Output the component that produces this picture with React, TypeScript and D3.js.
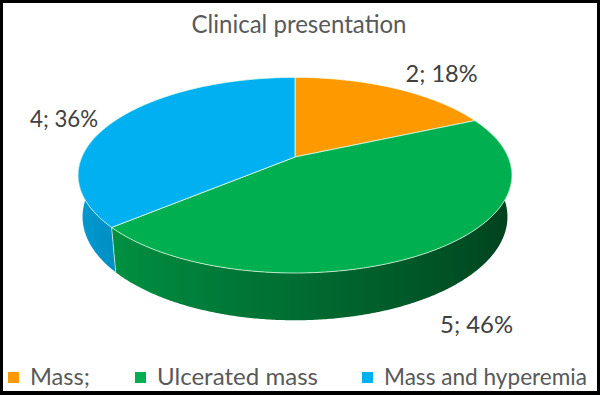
import React from "react";
import * as d3 from "d3";

const title = "Clinical presentation";
const categories = ["Mass;", "Ulcerated mass", "Mass and hyperemia"];
const values = [2, 5, 4];
const percentLabels = ["18%", "46%", "36%"];
const colors = ["#FF9900", "#00B050", "#00B0F0"];

// layout
const W = 600, H = 395;
const cx = 295, cy = 157;
const F = 1027;
const tilt = (26.3 * Math.PI) / 180;
const sinA = Math.sin(tilt), cosA = Math.cos(tilt);
const D = 5.376 * cosA;
const thick = 0.2186;
const labelNudge = [
  [47, -6],
  [45, 82],
  [-51, 6],
];
const labelLen = [72, 73, 68];
const legendX = [8, 135, 362];
const legendTextLen = [60, 161, 203];

function project(x: number, y: number, z: number): [number, number, number] {
  const yc = y * cosA + z * sinA;
  const d = D + z * cosA - y * sinA;
  return [cx + (F * x) / d, cy - (F * yc) / d, d];
}
const rim = (t: number, y = 0) => project(Math.sin(t), y, Math.cos(t));

function shade(color: string, t: number) {
  const b = 0.62 + 0.26 * -Math.sin(t);
  const c = d3.rgb(color);
  return d3.rgb(c.r * b, c.g * b, c.b * b).formatHex();
}

export default function App() {
  const pie = d3.pie<number>().sort(null).startAngle(0).endAngle(2 * Math.PI);
  const arcs = pie(values);
  const step = Math.PI / 360;
  // silhouette angles (widest point of the rim in perspective)
  const tSil = Math.acos(-cosA / D);
  const tR = Math.PI - tSil + Math.PI / 2 - (Math.PI / 2 - (Math.PI - tSil)); // right silhouette
  const tRight = Math.PI - (Math.PI - tSil); // equals tSil measured from top, ~100.7deg
  const tLeft = 2 * Math.PI - tSil;
  void tR;

  const sides: { d: string; id: string; stops: { o: number; c: string }[]; x0: number; x1: number }[] = [];
  arcs.forEach((a, i) => {
    const s0 = Math.max(a.startAngle, Math.PI / 2 - 0.25);
    const s1 = Math.min(a.endAngle, (3 * Math.PI) / 2 + 0.25);
    if (s1 <= s0) return;
    const n = Math.max(2, Math.ceil((s1 - s0) / step));
    const top: [number, number][] = [];
    const bot: [number, number][] = [];
    for (let k = 0; k <= n; k++) {
      const t = s0 + ((s1 - s0) * k) / n;
      const p = rim(t), q = rim(t, -thick);
      top.push([p[0], p[1]]);
      bot.push([q[0], q[1]]);
    }
    const d = d3.line()(top.concat(bot.reverse()))! + "Z";
    const g0 = Math.max(a.startAngle, tRight);
    const g1 = Math.min(a.endAngle, tLeft);
    const samples: { x: number; c: string }[] = [];
    const m = 24;
    for (let k = 0; k <= m; k++) {
      const t = g0 + ((g1 - g0) * k) / m;
      samples.push({ x: rim(t, -thick / 2)[0], c: shade(colors[i], t) });
    }
    samples.sort((p, q) => p.x - q.x);
    const x0 = samples[0].x, x1 = samples[samples.length - 1].x;
    sides.push({
      d,
      id: `side${i}`,
      x0,
      x1,
      stops: samples.map((s) => ({ o: (s.x - x0) / Math.max(1e-6, x1 - x0), c: s.c })),
    });
  });

  const tops = arcs.map((a, i) => {
    const n = Math.max(2, Math.ceil((a.endAngle - a.startAngle) / step));
    const pts: [number, number][] = [[cx, cy]];
    for (let k = 0; k <= n; k++) {
      const t = a.startAngle + ((a.endAngle - a.startAngle) * k) / n;
      const q = rim(t);
      pts.push([q[0], q[1]]);
    }
    return { d: d3.line()(pts)! + "Z", fill: colors[i] };
  });

  const edges = arcs
    .map((a) => a.startAngle)
    .filter((t) => Math.cos(t) < 0)
    .map((t) => {
      const p0 = rim(t), p1 = rim(t, -thick);
      return { x1: p0[0], y1: p0[1], x2: p1[0], y2: p1[1] };
    });

  const labels = arcs.map((a, i) => {
    const tm = (a.startAngle + a.endAngle) / 2;
    const p = rim(tm);
    return {
      x: p[0] + labelNudge[i][0],
      y: p[1] + labelNudge[i][1],
      text: `${values[i]}; ${percentLabels[i]}`,
    };
  });

  const font = "Lato, 'Open Sans', sans-serif";

  return (
    <svg
      width={W}
      height={H}
      style={{ position: "absolute", left: 0, top: 0 }}
      xmlns="http://www.w3.org/2000/svg"
    >
      <defs>
        {sides.map((s) => (
          <linearGradient key={s.id} id={s.id} gradientUnits="userSpaceOnUse" x1={s.x0} y1={0} x2={s.x1} y2={0}>
            {s.stops.map((st, k) => (
              <stop key={k} offset={st.o} stopColor={st.c} />
            ))}
          </linearGradient>
        ))}
      </defs>
      <rect x={0} y={0} width={W} height={H} fill="#000" />
      <rect x={3} y={3} width={W - 6} height={H - 7} fill="#fff" />
      <text
        x={299}
        y={33}
        textAnchor="middle"
        fontFamily={font}
        fontSize={25}
        fill="#595959"
        textLength={215}
        lengthAdjust="spacingAndGlyphs"
      >
        {title}
      </text>
      <g>
        {sides.map((s) => (
          <path key={s.id} d={s.d} fill={`url(#${s.id})`} />
        ))}
      </g>
      {edges.map((e, i) => (
        <line key={i} {...e} stroke="rgba(255,255,255,0.6)" strokeWidth={1} />
      ))}
      <g>
        {tops.map((t, i) => (
          <path
            key={i}
            d={t.d}
            fill={t.fill}
            stroke="rgba(235,255,235,0.75)"
            strokeWidth={1}
            strokeLinejoin="round"
          />
        ))}
      </g>
      {labels.map((l, i) => (
        <text
          key={i}
          x={l.x}
          y={l.y}
          textAnchor="middle"
          fontFamily={font}
          fontSize={23}
          fill="#404040"
          textLength={labelLen[i]}
          lengthAdjust="spacingAndGlyphs"
        >
          {l.text}
        </text>
      ))}
      <g>
        {categories.map((c, i) => (
          <g key={c}>
            <rect x={legendX[i]} y={372} width={11} height={11} fill={colors[i]} />
            <text
              x={legendX[i] + 22}
              y={385}
              fontFamily={font}
              fontSize={23}
              fill="#595959"
              textLength={legendTextLen[i]}
              lengthAdjust="spacingAndGlyphs"
            >
              {c}
            </text>
          </g>
        ))}
      </g>
    </svg>
  );
}
